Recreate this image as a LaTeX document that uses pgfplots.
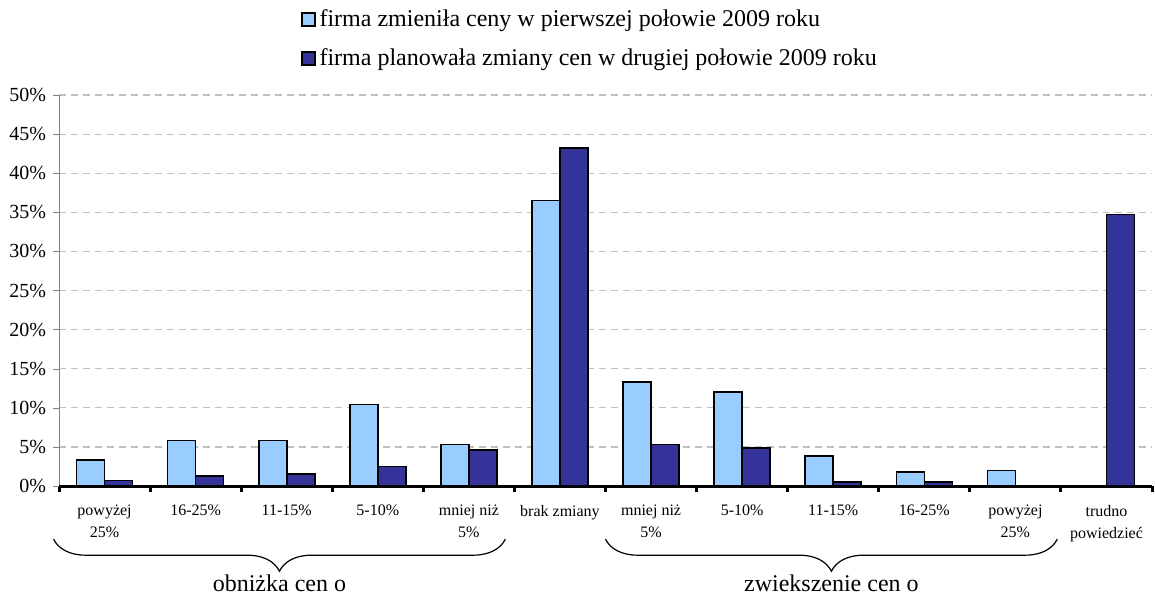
\documentclass[border=0pt]{standalone}
\usepackage{fontspec}
\setmainfont{Liberation Serif}
\usepackage{pgfplots}
\pgfplotsset{compat=1.18}
\usetikzlibrary{decorations.pathreplacing}
\definecolor{lightb}{HTML}{99CCFF}
\definecolor{darkb}{HTML}{333399}
\definecolor{gridg}{HTML}{C0C0C0}
\begin{document}
\begin{tikzpicture}
\begin{axis}[
    scale only axis,
    width=546.5pt,height=195.5pt,
    ybar=0pt,bar width=14pt,
    xmin=-0.5,xmax=11.5,ymin=0,ymax=50,
    axis lines=left,
    axis line style={-},
    x axis line style={draw=none},
    y axis line style={gray},
    clip=false,
    tick align=outside,
    xtick={0,...,11},
    xticklabels={{powyżej\\25\%},{16-25\%},{11-15\%},{5-10\%},{mniej niż\\5\%},{brak zmiany},
                 {mniej niż\\5\%},{5-10\%},{11-15\%},{16-25\%},{powyżej\\25\%},{trudno\\powiedzieć}},
    xticklabel style={align=center,font=\fontsize{8}{11}\selectfont,yshift=-3pt},
    major x tick style={draw=none},
    minor xtick={-0.5,0.5,...,11.5},
    minor tick length=3pt,
    minor x tick style={black,line width=1.5pt},
    ytick={0,5,...,50},
    yticklabel={\pgfmathprintnumber{\tick}\%},
    yticklabel style={font=\fontsize{10}{12}\selectfont},
    /pgf/number format/assume math mode=true,
    major tick length=3pt,
    ytick style={gray},
    ymajorgrids,
    major grid style={gridg,line width=0.6pt,dash pattern=on 3.5pt off 2.5pt},
    legend style={at={(0.221,1.057)},anchor=south west,draw=none,fill=none,
                  font=\fontsize{12}{14}\selectfont,row sep=5.5pt,inner sep=0pt},
    legend cell align=left,
]
\addplot[fill=lightb,draw=black,line width=0.8pt,
    legend image code/.code={\draw[fill=lightb,draw=black,line width=0.8pt] (0pt,-3.25pt) rectangle (6.5pt,3.25pt);}]
  coordinates {(0,3.3) (1,5.8) (2,5.8) (3,10.4) (4,5.3) (5,36.5) (6,13.3) (7,12.0) (8,3.8) (9,1.8) (10,2.0)};
\addlegendentry{firma zmieniła ceny w pierwszej połowie 2009 roku}
\addplot[fill=darkb,draw=black,line width=0.8pt,
    legend image code/.code={\draw[fill=darkb,draw=black,line width=0.8pt] (0pt,-3.25pt) rectangle (6.5pt,3.25pt);}]
  coordinates {(0,0.7) (1,1.3) (2,1.5) (3,2.5) (4,4.6) (5,43.2) (6,5.3) (7,4.85) (8,0.5) (9,0.5) (11,34.7)};
\addlegendentry{firma planowała zmiany cen w drugiej połowie 2009 roku}
% thick x axis drawn over the bar bases
\draw[black,line width=1.5pt] (axis cs:-0.5,0) -- (axis cs:11.5,0);
% braces grouping the categories
\draw[decorate,decoration={brace,mirror,amplitude=16pt},line width=0.6pt]
  (axis cs:-0.56,-6.8) -- (axis cs:4.4,-6.8);
\draw[decorate,decoration={brace,mirror,amplitude=16pt},line width=0.6pt]
  (axis cs:5.5,-6.8) -- (axis cs:10.46,-6.8);
\node[anchor=north,inner sep=1pt,font=\fontsize{12}{14}\selectfont] at (axis cs:1.92,-11.1) {obniżka cen o};
\node[anchor=north,inner sep=1pt,font=\fontsize{12}{14}\selectfont] at (axis cs:7.98,-11.1) {zwiekszenie cen o};
\path (axis cs:-1.148,-14.3) rectangle (axis cs:11.533,62.15);
\end{axis}
\end{tikzpicture}
\end{document}
